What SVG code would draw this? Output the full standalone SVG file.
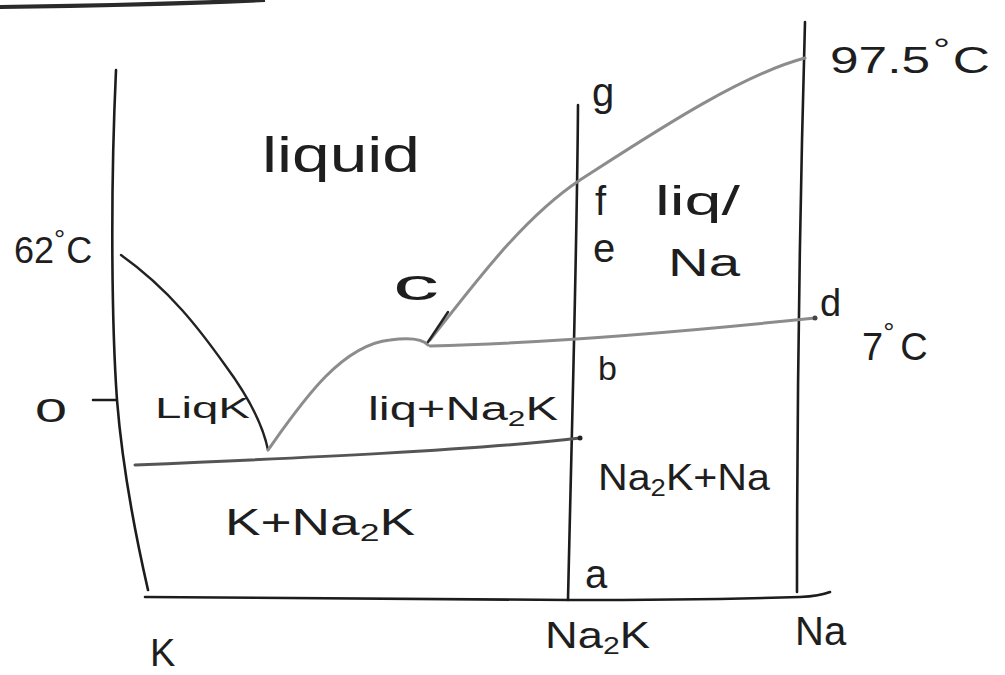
<svg xmlns="http://www.w3.org/2000/svg" width="1005" height="675" viewBox="0 0 1005 675">
<style>
.ax{fill:none;stroke:#1c1c1c;stroke-width:2.6;stroke-linecap:round}
.cv{fill:none;stroke:#222;stroke-width:2.4;stroke-linecap:round}
.gr{fill:none;stroke:#8c8c8c;stroke-width:3;stroke-linecap:round}
.t{font-family:"Liberation Sans","DejaVu Sans",sans-serif;fill:#1e1e1e}
</style>
<rect width="1005" height="675" fill="#ffffff"/>
<path d="M0,7 Q150,5 265,0" fill="none" stroke="#2a2a2a" stroke-width="4"/>
<g id="axes">
<path class="ax" d="M116,70 C110,200 112,330 117,400 C121,450 132,520 148,590"/>
<path class="ax" d="M145,597 Q360,598 570,600 Q700,600 800,597 Q820,596 830,592"/>
<path class="ax" d="M578,105 C577,250 572,420 568,600"/>
<path class="ax" d="M805,22 C800,200 797,400 797,592"/>
<path class="ax" d="M93,400 L116,400"/>
</g>
<g id="curves">
<path class="cv" d="M121,255 C170,290 200,330 225,365 C245,392 262,420 268,450"/>
<path class="gr" d="M268,450 C300,405 340,345 390,340 Q420,336 428,345"/>
<path class="gr" d="M430,340 C470,290 520,220 580,180 C650,135 740,75 805,58"/>
<path class="cv" d="M428,342 L448,312"/>
<path class="gr" d="M430,346 C550,343 700,330 815,318"/>
<circle cx="815" cy="318" r="2.5" fill="#444"/>
<path class="gr" style="stroke:#555" d="M135,465 C300,458 480,450 580,438"/>
<circle cx="580" cy="438" r="2.5" fill="#222"/>
</g>
<g id="labels">
<text class="t" x="262" y="172" font-size="50" textLength="158" lengthAdjust="spacingAndGlyphs">liquid</text>
<text class="t" x="14" y="263" font-size="36">62<tspan dy="-14" font-size="28">°</tspan><tspan dx="1" dy="14">C</tspan></text>
<text class="t" x="35" y="422" font-size="34" textLength="32" lengthAdjust="spacingAndGlyphs">0</text>
<text class="t" x="155" y="418" font-size="30" textLength="95" lengthAdjust="spacingAndGlyphs">LiqK</text>
<text class="t" x="393" y="300" font-size="44" textLength="46" lengthAdjust="spacingAndGlyphs">c</text>
<text class="t" x="368" y="420" font-size="34" textLength="190" lengthAdjust="spacingAndGlyphs">liq+Na<tspan font-size="22" dy="6">2</tspan><tspan dy="-6">K</tspan></text>
<text class="t" x="592" y="106" font-size="40">g</text>
<text class="t" x="595" y="215" font-size="40">f</text>
<text class="t" x="655" y="215" font-size="40" textLength="85" lengthAdjust="spacingAndGlyphs">liq/</text>
<text class="t" x="593" y="262" font-size="40">e</text>
<text class="t" x="668" y="276" font-size="38" textLength="72" lengthAdjust="spacingAndGlyphs">Na</text>
<text class="t" x="820" y="316" font-size="38">d</text>
<text class="t" x="862" y="360" font-size="38">7<tspan dy="-18" font-size="28">°</tspan><tspan dx="6" dy="18">C</tspan></text>
<text class="t" x="598" y="380" font-size="34">b</text>
<text class="t" x="598" y="490" font-size="36" textLength="172" lengthAdjust="spacingAndGlyphs">Na<tspan font-size="24" dy="6">2</tspan><tspan dy="-6">K+Na</tspan></text>
<text class="t" x="225" y="535" font-size="36" textLength="190" lengthAdjust="spacingAndGlyphs">K+Na<tspan font-size="24" dy="6">2</tspan><tspan dy="-6">K</tspan></text>
<text class="t" x="585" y="588" font-size="40">a</text>
<text class="t" x="150" y="666" font-size="38">K</text>
<text class="t" x="545" y="648" font-size="36" textLength="105" lengthAdjust="spacingAndGlyphs">Na<tspan font-size="24" dy="6">2</tspan><tspan dy="-6">K</tspan></text>
<text class="t" x="795" y="645" font-size="40">Na</text>
<text class="t" x="830" y="73" font-size="36" textLength="160" lengthAdjust="spacingAndGlyphs">97.5<tspan dx="2" dy="-14" font-size="30">°</tspan><tspan dx="2" dy="14">C</tspan></text>
</g>
</svg>
